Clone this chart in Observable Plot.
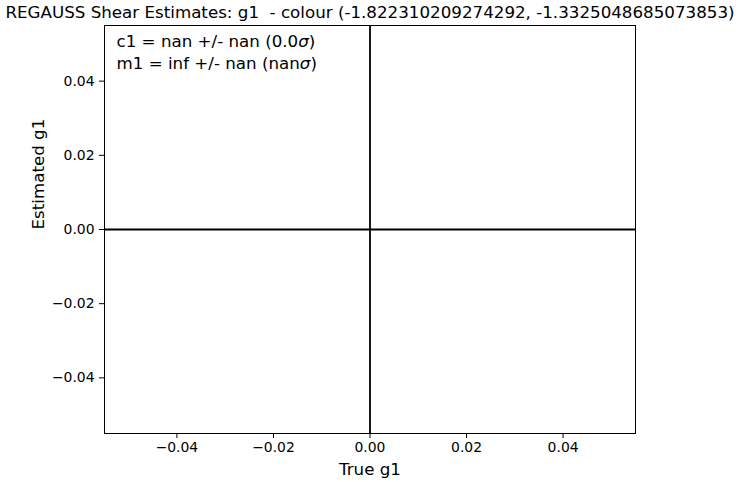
<!DOCTYPE html>
<html>
<head>
<meta charset="utf-8">
<script src="https://cdn.jsdelivr.net/npm/d3@7"></script>
<script src="https://cdn.jsdelivr.net/npm/@observablehq/plot@0.6"></script>
<style>
  body { margin: 0; background: #fff; font-family: "DejaVu Sans", sans-serif; }
  #title { position: relative; width: 739px; height: 20px; }
  #title span { position: absolute; left: 370px; top: 2px; transform: translateX(-50%); white-space: pre; font-size: 16.7px; color: #000; }
</style>
</head>
<body>
<div id="title"><span></span></div>
<div id="chart"></div>
<script>
const titleText = "REGAUSS Shear Estimates: g1  - colour (-1.822310209274292, -1.3325048685073853)";
const xDomain = [-0.055, 0.055];
const yDomain = [-0.055, 0.055];
const xTicks = [-0.04, -0.02, 0.00, 0.02, 0.04];
const yTicks = [-0.04, -0.02, 0.00, 0.02, 0.04];
const trueG1 = [];
const estG1 = [];
const annotLines = ["c1 = nan +/- nan (0.0σ)", "m1 = inf +/- nan (nanσ)"];
const xLabel = "True g1";
const yLabel = "Estimated g1";

document.querySelector("#title span").textContent = titleText;

const fmt = d => d3.format(".2f")(d).replace("-", "\u2212");
const points = trueG1.map((x, i) => ({x, y: estG1[i]}));

const plot = Plot.plot({
  width: 739,
  height: 462,
  marginTop: 5,
  marginBottom: 49,
  marginLeft: 104,
  marginRight: 104,
  style: {fontFamily: "DejaVu Sans", fontSize: "13.9px", color: "#000", background: "#fff"},
  x: {domain: xDomain},
  y: {domain: yDomain},
  marks: [
    Plot.dot(points, {x: "x", y: "y", r: 2, fill: "steelblue"}),
    Plot.ruleX([0], {stroke: "black", strokeWidth: 1.8}),
    Plot.ruleY([0], {stroke: "black", strokeWidth: 1.8}),
    Plot.frame({stroke: "black", strokeWidth: 1}),
    Plot.axisX({ticks: xTicks, tickFormat: fmt, tickSize: 5, tickPadding: 4, label: null, fontSize: 13.9, stroke: "black"}),
    Plot.axisY({ticks: yTicks, tickFormat: fmt, tickSize: 5, tickPadding: 5, label: null, fontSize: 13.9, stroke: "black"}),
    Plot.text([xLabel], {frameAnchor: "bottom", dy: 41, fontSize: 16.7, fill: "black", text: d => d}),
    Plot.text([yLabel], {frameAnchor: "left", dx: -66, rotate: -90, fontSize: 16.7, fill: "black", text: d => d}),
    Plot.text([annotLines.join("\n")], {frameAnchor: "top-left", dx: 12, dy: 6, textAnchor: "start", lineAnchor: "top", lineHeight: 1.33, fontSize: 16.7, fill: "black", text: d => d, className: "annot"})
  ]
});
document.getElementById("chart").appendChild(plot);

// italic sigma like mathtext
d3.select(plot).selectAll(".annot tspan").each(function() {
  const t = this.textContent;
  const parts = t.split("σ");
  if (parts.length === 2) {
    const el = d3.select(this);
    el.text(parts[0]);
    el.append("tspan").attr("font-style", "italic").text("σ");
    el.append("tspan").text(parts[1]);
  }
});
</script>
</body>
</html>
